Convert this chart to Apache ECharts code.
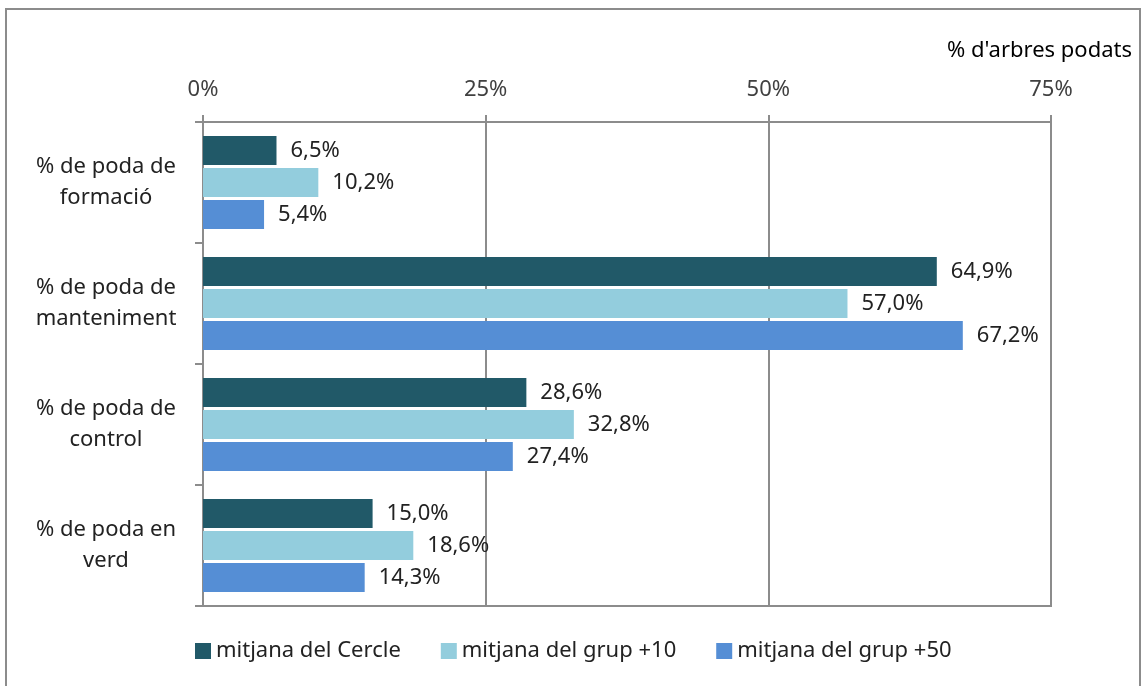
<!DOCTYPE html>
<html>
<head>
<meta charset="utf-8">
<script src="https://cdn.jsdelivr.net/npm/echarts@6/dist/echarts.min.js"></script>
<style>
  html, body { margin: 0; padding: 0; background: #fff; }
  #main { width: 1141px; height: 686px; }
</style>
</head>
<body>
<div id="main"></div>
<script>
// dades
var categories = ['% de poda de\nformació', '% de poda de\nmanteniment', '% de poda de\ncontrol', '% de poda en\nverd'];
var seriesNames = ['mitjana del Cercle', 'mitjana del grup +10', 'mitjana del grup +50'];
var cercle = [6.5, 64.9, 28.6, 15.0];
var grup10 = [10.2, 57.0, 32.8, 18.6];
var grup50 = [5.4, 67.2, 27.4, 14.3];
var xTicks = [0, 25, 50, 75];
var colors = ['#215968', '#93cddd', '#558ed5'];

var font = 'Noto Sans';
var fs = 22;

function pct(v) {
    return v.toFixed(1).replace('.', ',') + '%';
}

function makeSeries(name, data, color) {
    return {
        name: name,
        type: 'bar',
        data: data,
        barWidth: 29,
        barGap: '10%',
        itemStyle: { color: color },
        label: {
            show: true,
            position: 'right',
            distance: 14,
            fontFamily: font,
            fontSize: fs,
            color: '#222',
            formatter: function (p) { return pct(p.value); }
        }
    };
}

var myChart = echarts.init(document.getElementById('main'));
var option = {
    animation: false,
    textStyle: { fontFamily: font },
    graphic: [{
        type: 'rect',
        shape: { x: 6, y: 9, width: 1134, height: 700 },
        style: { fill: 'none', stroke: '#8c8c8c', lineWidth: 2 },
        silent: true
    }],
    grid: {
        left: 203,
        right: 90,
        top: 122,
        bottom: 80,
        show: true,
        borderColor: '#8c8c8c',
        borderWidth: 2
    },
    legend: {
        bottom: 19,
        left: 190,
        itemWidth: 16,
        itemHeight: 16,
        itemGap: 40,
        icon: 'rect',
        textStyle: { fontFamily: font, fontSize: fs, color: '#222' },
        data: seriesNames
    },
    xAxis: {
        type: 'value',
        position: 'top',
        min: 0,
        max: 75,
        interval: 25,
        name: "% d'arbres podats",
        nameLocation: 'end',
        nameGap: 0,
        nameTextStyle: {
            fontFamily: font, fontSize: fs, color: '#000',
            align: 'right', verticalAlign: 'bottom',
            padding: [0, -81, 60, 0]
        },
        axisLine: { show: true, lineStyle: { color: '#8c8c8c', width: 2 } },
        axisTick: { show: true, length: 7, lineStyle: { color: '#8c8c8c', width: 2 } },
        axisLabel: {
            fontFamily: font, fontSize: fs, color: '#404040', margin: 21,
            formatter: function (v) { return xTicks.indexOf(v) >= 0 ? v + '%' : ''; }
        },
        splitLine: { show: true, lineStyle: { color: '#8c8c8c', width: 2 } }
    },
    yAxis: {
        type: 'category',
        inverse: true,
        data: categories,
        axisLine: { show: true, lineStyle: { color: '#8c8c8c', width: 2 } },
        axisTick: { show: true, length: 8, lineStyle: { color: '#8c8c8c', width: 2 } },
        axisLabel: {
            fontFamily: font, fontSize: fs, color: '#222', lineHeight: 31,
            align: 'center', margin: 97
        }
    },
    series: [
        makeSeries(seriesNames[0], cercle, colors[0]),
        makeSeries(seriesNames[1], grup10, colors[1]),
        makeSeries(seriesNames[2], grup50, colors[2])
    ]
};
myChart.setOption(option);
</script>
</body>
</html>
